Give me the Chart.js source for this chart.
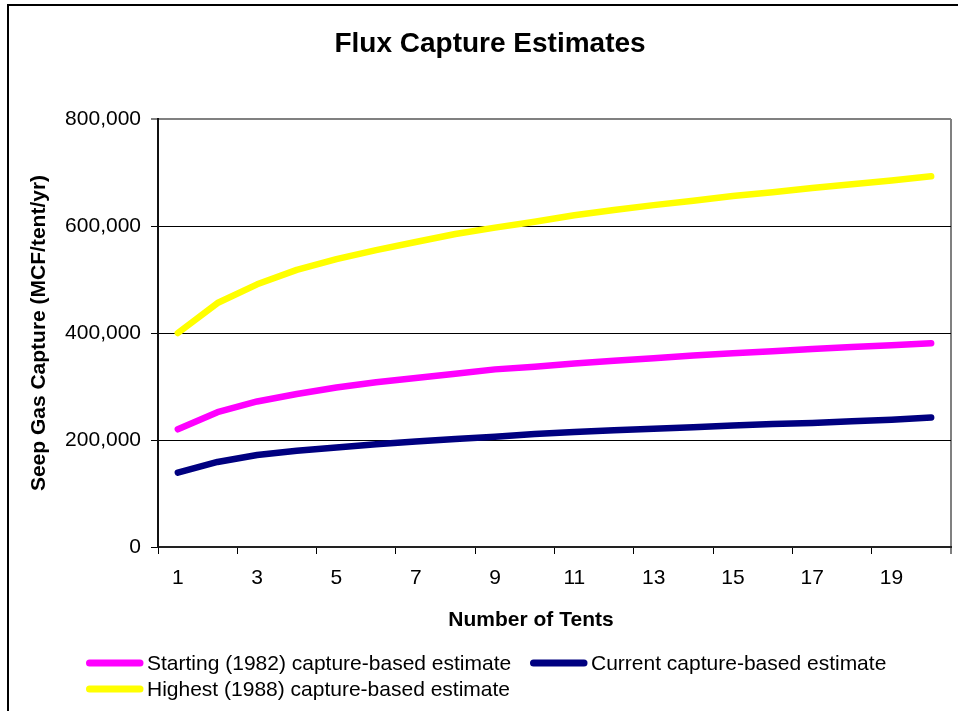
<!DOCTYPE html>
<html>
<head>
<meta charset="utf-8">
<title>Flux Capture Estimates</title>
<script src="https://cdn.jsdelivr.net/npm/chart.js@4.4.1/dist/chart.umd.min.js"></script>
<style>
    html, body { margin: 0; padding: 0; background: #fff; }
    #wrap { position: relative; width: 958px; height: 711px; }
</style>
</head>
<body>
<div id="wrap"><canvas id="fluxChart" width="958" height="711"></canvas></div>
<script>
const tentCounts = ['1', '2', '3', '4', '5', '6', '7', '8', '9', '10',
    '11', '12', '13', '14', '15', '16', '17', '18', '19', '20'];

// MCF/tent/yr
const startingEstimate = [220000, 252000, 272000, 286000, 298000, 308000, 316000, 324000, 332000, 337000,
    343000, 348000, 353000, 358000, 362000, 366000, 370000, 374000, 377000, 381000];
const currentEstimate = [139000, 159000, 172000, 180000, 186000, 192000, 197000, 202000, 206000, 211000,
    215000, 218000, 221000, 224000, 227000, 230000, 232000, 235000, 238000, 242000];
const highestEstimate = [400000, 456000, 491000, 518000, 538000, 555000, 570000, 585000, 597000, 608000,
    620000, 630000, 639000, 647000, 656000, 663000, 671000, 678000, 685000, 693000];

const yTicks = [0, 200000, 400000, 600000, 800000];

const FONT = 'Arial, "Liberation Sans", sans-serif';

document.addEventListener('DOMContentLoaded', function () {
    const canvas = document.getElementById('fluxChart');

    // outer frame of the original picture (left and top edges only)
    const FramePlugin = {
        id: 'frame',
        beforeDraw(chart) {
            const ctx = chart.ctx;
            ctx.save();
            ctx.strokeStyle = '#000';
            ctx.lineWidth = 2;
            ctx.beginPath();
            ctx.moveTo(8, chart.height);
            ctx.lineTo(8, 5);
            ctx.lineTo(chart.width, 5);
            ctx.stroke();
            ctx.restore();
        }
    };

    // x axis title and the two-row legend under the plot
    const BottomText = {
        id: 'bottomText',
        afterDraw(chart) {
            const ctx = chart.ctx;
            ctx.save();
            ctx.fillStyle = '#000';
            ctx.textBaseline = 'middle';
            ctx.textAlign = 'center';
            ctx.font = 'bold 21px ' + FONT;
            ctx.fillText('Number of Tents', 531, 620);

            const slots = [
                { x: 86, y: 663 },
                { x: 530, y: 663 },
                { x: 86, y: 689 }
            ];
            ctx.textAlign = 'left';
            ctx.font = '21px ' + FONT;
            chart.data.datasets.forEach(function (ds, i) {
                const s = slots[i];
                ctx.strokeStyle = ds.borderColor;
                ctx.lineWidth = 7;
                ctx.lineCap = 'round';
                ctx.beginPath();
                ctx.moveTo(s.x + 3.5, s.y);
                ctx.lineTo(s.x + 54, s.y);
                ctx.stroke();
                ctx.fillStyle = '#000';
                ctx.fillText(ds.label, s.x + 61, s.y + 1);
            });
            ctx.restore();
        }
    };

    const lineStyle = {
        borderWidth: 6.5,
        borderCapStyle: 'round',
        borderJoinStyle: 'round',
        pointRadius: 0,
        pointHoverRadius: 0,
        tension: 0,
        fill: false
    };

    new Chart(canvas, {
        type: 'line',
        data: {
            labels: tentCounts,
            datasets: [
                Object.assign({ label: 'Starting (1982) capture-based estimate', data: startingEstimate, borderColor: '#FF00FF' }, lineStyle),
                Object.assign({ label: 'Current capture-based estimate', data: currentEstimate, borderColor: '#000080' }, lineStyle),
                Object.assign({ label: 'Highest (1988) capture-based estimate', data: highestEstimate, borderColor: '#FFFF00' }, lineStyle)
            ]
        },
        options: {
            responsive: false,
            animation: false,
            layout: {
                padding: { left: 29, right: 7, top: 0, bottom: 0 }
            },
            plugins: {
                legend: { display: false },
                tooltip: { enabled: false },
                title: {
                    display: true,
                    text: 'Flux Capture Estimates',
                    color: '#000',
                    font: { family: FONT, size: 28, weight: 'bold', lineHeight: 1.2 },
                    padding: { top: 27, bottom: 58.4 }
                }
            },
            scales: {
                x: {
                    offset: true,
                    afterFit: function (scale) { scale.height = 164; },
                    border: { display: true, color: '#222', width: 2 },
                    grid: {
                        offset: true,
                        drawOnChartArea: true,
                        tickLength: 7,
                        tickWidth: 1,
                        lineWidth: function (ctx) { return ctx.index === undefined ? 2 : 1; },
                        color: function (ctx) { return ctx.index === undefined ? '#808080' : 'rgba(0,0,0,0)'; },
                        tickColor: function (ctx) {
                            return (ctx.index === undefined || ctx.index % 2 === 0) ? '#000' : 'rgba(0,0,0,0)';
                        }
                    },
                    ticks: {
                        autoSkip: false,
                        maxRotation: 0,
                        padding: 12,
                        color: '#000',
                        font: { family: FONT, size: 21 },
                        callback: function (value, index) {
                            return index % 2 === 0 ? tentCounts[index] : '';
                        }
                    }
                },
                y: {
                    min: 0,
                    max: 800000,
                    afterFit: function (scale) { scale.width = 129; },
                    afterBuildTicks: function (scale) {
                        scale.ticks = yTicks.map(v => ({ value: v }));
                    },
                    border: { display: true, color: '#111', width: 2 },
                    grid: {
                        tickLength: 7,
                        tickWidth: 1,
                        color: function (ctx) { return ctx.tick && ctx.tick.value === 800000 ? '#808080' : '#000'; },
                        lineWidth: function (ctx) { return ctx.tick && ctx.tick.value === 800000 ? 2 : 1; },
                        tickColor: '#000'
                    },
                    ticks: {
                        padding: 10,
                        color: '#000',
                        font: { family: FONT, size: 21 },
                        callback: function (value) {
                            return Number(value).toLocaleString('en-US');
                        }
                    },
                    title: {
                        display: true,
                        text: 'Seep Gas Capture (MCF/tent/yr)',
                        color: '#000',
                        font: { family: FONT, size: 21, weight: 'bold', lineHeight: 1 },
                        padding: { top: 0, bottom: 0 }
                    }
                }
            }
        },
        plugins: [FramePlugin, BottomText]
    });
});
</script>
</body>
</html>
